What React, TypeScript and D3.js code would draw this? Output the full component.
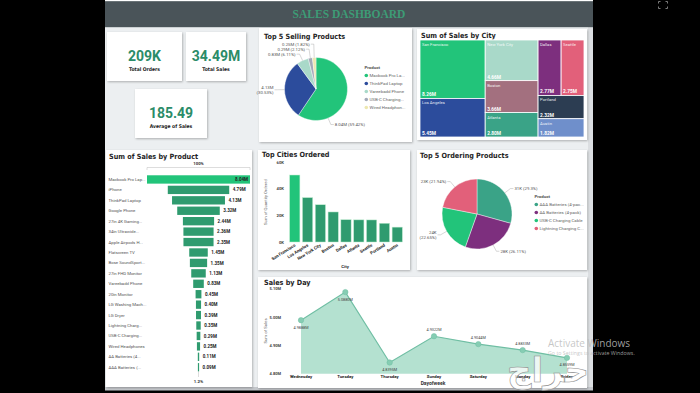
import React from 'react';
import * as d3 from 'd3';

const W = 700;
const H = 393;

// KPI cards
const kpiValues = ['209K', '34.49M', '185.49'];
const kpiNames = ['Total Orders', 'Total Sales', 'Average of Sales'];

// Top 5 Selling Products (sales, millions)
const sellingProducts = ['Macbook Pro Laptop', 'ThinkPad Laptop', 'Vareebadd Phone', 'USB-C Charging Cable', 'Wired Headphones'];
const sellingSales = [8.038, 4.13, 0.827, 0.287, 0.246];

// Sum of Sales by City (millions)
const cityNames = ['San Francisco', 'Los Angeles', 'New York City', 'Boston', 'Atlanta', 'Dallas', 'Seattle', 'Portland', 'Austin'];
const citySales = [8.26, 5.45, 4.66, 3.66, 2.8, 2.77, 2.75, 2.32, 1.82];
const cityGroups: any[] = [
  ['San Francisco', 'Los Angeles'],
  ['New York City', 'Boston', 'Atlanta'],
  [['Dallas', 'Seattle'], 'Portland', 'Austin'],
];

// Sum of Sales by Product (millions)
const productNames = [
  'Macbook Pro Laptop', 'iPhone', 'ThinkPad Laptop', 'Google Phone', '27in 4K Gaming Monitor',
  '34in Ultrawide Monitor', 'Apple Airpods Headphones', 'Flatscreen TV', 'Bose SoundSport Headphones',
  '27in FHD Monitor', 'Vareebadd Phone', '20in Monitor', 'LG Washing Machine', 'LG Dryer',
  'Lightning Charging Cable', 'USB-C Charging Cable', 'Wired Headphones', 'AA Batteries (4-pack)', 'AAA Batteries (4-pack)',
];
const productSales = [8.038, 4.794, 4.13, 3.319, 2.435, 2.356, 2.349, 1.446, 1.346, 1.132, 0.827, 0.454, 0.4, 0.388, 0.347, 0.287, 0.246, 0.106, 0.093];

// Top Cities Ordered (quantity)
const orderCities = ['San Francisco', 'Los Angeles', 'New York City', 'Boston', 'Dallas', 'Atlanta', 'Seattle', 'Portland', 'Austin'];
const orderQty = [50239, 33289, 27932, 22528, 16730, 16602, 16553, 14053, 11153];
const qtyTicks = [0, 20000, 40000, 60000];

// Top 5 Ordering Products (quantity)
const orderProducts = ['AAA Batteries (4-pack)', 'AA Batteries (4-pack)', 'USB-C Charging Cable', 'Lightning Charging Cable'];
const orderProductQty = [31017, 27635, 23975, 23217];

// Sales by Day (millions)
const days = ['Wednesday', 'Tuesday', 'Thursday', 'Sunday', 'Saturday', 'Monday', 'Friday'];
const daySales = [4.9888, 5.088, 4.8395, 4.9322, 4.9044, 4.8833, 4.8559];
const dayTicks = [4.8, 4.9, 5.0, 5.1];

const GREEN = '#22c47a';
const DARK_GREEN = '#2f9b6f';
const cityColors: Record<string, string> = {
  'San Francisco': GREEN,
  'Los Angeles': '#2c4c9c',
  'New York City': '#a9d9c9',
  Boston: '#a3707f',
  Atlanta: '#3aa387',
  Dallas: '#7d2f7e',
  Seattle: '#e2607a',
  Portland: '#2c3d52',
  Austin: '#6f8fcb',
};
const pie1Colors = [GREEN, '#2c4c9c', '#a9d9c9', '#a3a9b8', '#ece7b0'];
const pie2Colors = ['#3aa387', '#7d2f7e', GREEN, '#e2607a'];

const TITLE_FONT = "'Liberation Sans Narrow', 'DejaVu Sans Condensed', sans-serif";
const clip = (s: string, max: number) => (s.length > max ? s.slice(0, max - 1).trimEnd() + '...' : s);
const pct = (p: number) => `${(p * 100).toFixed(2).replace(/0$/, '')}%`;

function Card({ x, y, w, h }: { x: number; y: number; w: number; h: number }) {
  return <rect x={x} y={y} width={w} height={h} fill="#fff" filter="url(#shadow)" />;
}

function Title({ x, y, text }: { x: number; y: number; text: string }) {
  return (
    <text x={x} y={y} fontFamily={TITLE_FONT} fontWeight="bold" fontSize={7.2} fill="#1e1e1e">
      {text}
    </text>
  );
}

function PieChart({ cx, cy, r, values, colors, labels, minX, maxX, slide, gap = 6.5 }: {
  cx: number; cy: number; r: number; values: number[]; colors: string[]; labels: string[]; minX: number; maxX: number; slide?: boolean; gap?: number;
}) {
  const arcs = d3.pie<number>().sort(null).value(d => d)(values);
  const arcGen = d3.arc<d3.PieArcDatum<number>>().innerRadius(0).outerRadius(r);
  const fs = 4.3;
  const items = arcs.map((a, i) => {
    let m = (a.startAngle + a.endAngle) / 2;
    const w = labels[i].length * fs * 0.5;
    // on the right, slide a wide label down the slice until it clears the legend
    if (slide) {
      while (Math.sin(m) >= 0 && cx + (r + 7) * Math.sin(m) + 5 + w > maxX && m < Math.min(a.endAngle - 0.15, Math.PI * 0.95)) m += 0.04;
    }
    const s = Math.sin(m);
    const c = -Math.cos(m);
    return { i, right: s >= 0, x0: cx + r * s, y0: cy + r * c, x1: cx + (r + 7) * s, ty: cy + (r + 7) * c };
  });
  [true, false].forEach(side => {
    const g = items.filter(d => d.right === side).sort((a, b) => a.ty - b.ty);
    for (let k = g.length - 2; k >= 0; k--) if (g[k].ty < cy && g[k].ty > g[k + 1].ty - gap) g[k].ty = g[k + 1].ty - gap;
    for (let k = 1; k < g.length; k++) if (g[k].ty < g[k - 1].ty + gap) g[k].ty = g[k - 1].ty + gap;
  });
  return (
    <g>
      {arcs.map((a, i) => (
        <path key={i} d={arcGen(a) || ''} transform={`translate(${cx},${cy})`} fill={colors[i]} stroke="#fff" strokeWidth={0.4} />
      ))}
      {items.map(it => {
        const label = labels[it.i];
        const dir = it.right ? 1 : -1;
        const x2 = it.x1 + dir * 3;
        const tx = x2 + dir * 1;
        const w = label.length * fs * 0.5;
        const wrap = it.right ? tx + w > maxX : tx - w < minX;
        const lines = wrap ? label.split(' ') : [label];
        return (
          <g key={it.i}>
            <polyline points={`${it.x0},${it.y0} ${it.x1},${it.ty} ${x2},${it.ty}`} fill="none" stroke="#9a9a9a" strokeWidth={0.4} />
            <text x={tx} y={it.ty + 1.5 - (lines.length - 1) * 2.3} fontSize={fs} fill="#555" textAnchor={it.right ? 'start' : 'end'}>
              {lines.map((l, k) => (
                <tspan key={k} x={tx} dy={k === 0 ? 0 : 4.8}>{l}</tspan>
              ))}
            </text>
          </g>
        );
      })}
    </g>
  );
}

function Legend({ x, y, names, colors, max }: { x: number; y: number; names: string[]; colors: string[]; max: number }) {
  return (
    <g fontSize={4.4} fill="#666">
      <text x={x} y={y} fontWeight="bold" fill="#555">Product</text>
      {names.map((n, i) => (
        <g key={n} transform={`translate(0,${y + 8 + i * 8})`}>
          <circle cx={x + 1.8} cy={-1.5} r={1.8} fill={colors[i]} />
          <text x={x + 5} y={0}>{clip(n, max)}</text>
        </g>
      ))}
    </g>
  );
}

function buildCity(node: any): any {
  if (typeof node === 'string') return { name: node, value: citySales[cityNames.indexOf(node)] };
  return { children: node.map(buildCity) };
}

export default function App() {
  // treemap
  const tmX = 420, tmY = 40, tmW = 164, tmH = 97;
  const root = d3.hierarchy(buildCity(cityGroups)).sum((d: any) => d.value || 0);
  d3.treemap<any>().tile(d3.treemapSliceDice).size([tmW, tmH])(root);
  const tiles = root.leaves() as d3.HierarchyRectangularNode<any>[];

  // funnel
  const fCenter = 198.5;
  const fw = d3.scaleLinear().domain([0, d3.max(productSales) as number]).range([0, 103]);
  const fy = d3.scaleBand<string>().domain(productNames).range([173.2, 373.5]).padding(0.2);
  const lastBottom = (fy(productNames[productNames.length - 1]) as number) + fy.bandwidth();

  // bar chart
  const bx = d3.scaleBand<string>().domain(orderCities).range([289, 403]).paddingInner(0.2).paddingOuter(0.05);
  const by = d3.scaleLinear().domain([0, 60000]).range([242, 162]);

  // pies
  const sellTotal = d3.sum(sellingSales);
  const sellLabels = sellingSales.map(v => `${v.toFixed(2)}M (${pct(v / sellTotal)})`);
  const ordTotal = d3.sum(orderProductQty);
  const ordLabels = orderProductQty.map(v => `${Math.round(v / 1000)}K (${pct(v / ordTotal)})`);

  // sales by day
  const dx = d3.scalePoint<string>().domain(days).range([301, 567]);
  const dy = d3.scaleLinear().domain([4.8, 5.1]).range([373.7, 288.7]);
  const area = d3.area<number>().x((_, i) => dx(days[i]) as number).y0(dy(4.8)).y1(d => dy(d));
  const line = d3.line<number>().x((_, i) => dx(days[i]) as number).y(d => dy(d));

  const kpiCards = [
    { x: 107, y: 32, w: 75, h: 49 },
    { x: 186, y: 32, w: 60, h: 49 },
    { x: 135, y: 89, w: 72, h: 49 },
  ];

  return (
    <svg width={W} height={H} style={{ position: 'absolute', left: 0, top: 0, background: '#000' }} fontFamily="Roboto, 'DejaVu Sans', sans-serif">
      <defs>
        <filter id="shadow" x="-10%" y="-10%" width="130%" height="130%">
          <feDropShadow dx="0.8" dy="1" stdDeviation="1" floodColor="#000" floodOpacity="0.28" />
        </filter>
      </defs>
      <rect x={0} y={0} width={W} height={H} fill="#000" />
      <rect x={105} y={0} width={488} height={388} fill="#eceff1" />
      <rect x={588} y={27} width={5} height={361} fill="#dcdfe2" />
      <rect x={105} y={387} width={488} height={3.5} fill="#c4c7cb" />
      <rect x={105} y={0} width={488} height={1.2} fill="#fff" />
      <rect x={105} y={1.2} width={488} height={26} fill="#4a5459" />
      <text x={349} y={17.5} textAnchor="middle" fontFamily="'Liberation Serif', 'DejaVu Serif', serif" fontWeight="bold" fontSize={11.5} fill="#3d9c76">
        SALES DASHBOARD
      </text>

      {/* fullscreen icon */}
      <g stroke="#888" strokeWidth={0.9} fill="none">
        <path d="M658.5,3.5 v-2 h2 M665.5,1.5 h2 v2 M667.5,6.5 v2 h-2 M660.5,8.5 h-2 v-2" />
      </g>

      {/* KPI cards */}
      {kpiCards.map((c, i) => (
        <g key={i}>
          <Card {...c} />
          <text x={c.x + c.w / 2} y={c.y + 28.5} textAnchor="middle" fontWeight="bold" fontSize={14} fill="#2b8c68">{kpiValues[i]}</text>
          <text x={c.x + c.w / 2} y={c.y + 38.5} textAnchor="middle" fontFamily={TITLE_FONT} fontWeight="bold" fontSize={5} fill="#222">{kpiNames[i]}</text>
        </g>
      ))}

      {/* Top 5 Selling Products */}
      <Card x={259} y={28} w={153} h={114} />
      <Title x={264} y={39} text="Top 5 Selling Products" />
      <PieChart cx={316} cy={89} r={31.5} values={sellingSales} colors={pie1Colors} labels={sellLabels} minX={262} maxX={366} slide gap={5} />
      <Legend x={364.5} y={69} names={sellingProducts} colors={pie1Colors} max={15} />

      {/* Sum of Sales by City */}
      <Card x={417} y={29} w={170} h={111} />
      <Title x={421} y={38} text="Sum of Sales by City" />
      {tiles.map(t => (
        <g key={t.data.name}>
          <rect x={tmX + t.x0} y={tmY + t.y0} width={t.x1 - t.x0} height={t.y1 - t.y0} fill={cityColors[t.data.name]} stroke="#fff" strokeWidth={0.8} />
          <text x={tmX + t.x0 + 2} y={tmY + t.y0 + 6} fontSize={4.2} fill="#fff" fillOpacity={0.9}>{t.data.name}</text>
          <text x={tmX + t.x0 + 2} y={tmY + t.y1 - 2} fontSize={4.8} fontWeight="bold" fill="#fff">{`${(t.value as number).toFixed(2)}M`}</text>
        </g>
      ))}

      {/* Sum of Sales by Product */}
      <Card x={106} y={150} w={146} h={237} />
      <Title x={109} y={159} text="Sum of Sales by Product" />
      <text x={fCenter} y={164.5} textAnchor="middle" fontSize={4.3} fontWeight="bold" fill="#333">100%</text>
      <path d={`M${fCenter - fw(productSales[0]) / 2},170 v-2.5 h${fw(productSales[0])} v2.5`} fill="none" stroke="#bbb" strokeWidth={0.5} />
      {productNames.map((p, i) => {
        const w = fw(productSales[i]);
        const y = fy(p) as number;
        const label = `${productSales[i].toFixed(2)}M`;
        const inside = fCenter + w / 2 + 18 > 252;
        return (
          <g key={p}>
            <text x={108.5} y={y + fy.bandwidth() / 2 + 1.5} fontSize={4.3} fill="#555">{clip(p, 16)}</text>
            <rect x={fCenter - w / 2} y={y} width={w} height={fy.bandwidth()} fill={i === 0 ? GREEN : DARK_GREEN} />
            <text
              x={inside ? fCenter + w / 2 - 2 : fCenter + w / 2 + 3.5}
              y={y + fy.bandwidth() / 2 + 1.6}
              textAnchor={inside ? 'end' : 'start'}
              fontSize={4.5}
              fontWeight="bold"
              fill="#222"
            >
              {label}
            </text>
          </g>
        );
      })}
      <line x1={fCenter} x2={fCenter} y1={lastBottom} y2={377} stroke="#bbb" strokeWidth={0.5} />
      <text x={fCenter} y={383} textAnchor="middle" fontSize={4.3} fontWeight="bold" fill="#333">
        {`${((productSales[productSales.length - 1] / productSales[0]) * 100).toFixed(1)}%`}
      </text>

      {/* Top Cities Ordered */}
      <Card x={258} y={150} w={152} h={120} />
      <Title x={262} y={157} text="Top Cities Ordered" />
      {qtyTicks.map(t => (
        <text key={t} x={284} y={by(t) + 1.5} textAnchor="end" fontSize={4.2} fontWeight="bold" fill="#444">{`${t / 1000}K`}</text>
      ))}
      <text transform="translate(267,202) rotate(-90)" textAnchor="middle" fontSize={4.2} fill="#666">Sum of Quantity Ordered</text>
      {orderCities.map((c, i) => (
        <g key={c}>
          <rect x={bx(c)} y={by(orderQty[i])} width={bx.bandwidth()} height={by(0) - by(orderQty[i])} fill={i === 0 ? GREEN : DARK_GREEN} stroke="#bfeccf" strokeWidth={0.5} />
          <text transform={`translate(${(bx(c) as number) + bx.bandwidth() / 2 + 1},${246}) rotate(-32)`} textAnchor="end" fontSize={4.3} fontWeight="bold" fill="#222">{c}</text>
        </g>
      ))}
      <text x={345} y={268} textAnchor="middle" fontSize={4.4} fontWeight="bold" fill="#333">City</text>

      {/* Top 5 Ordering Products */}
      <Card x={417} y={150} w={170} h={120} />
      <Title x={420} y={158} text="Top 5 Ordering Products" />
      <PieChart cx={477} cy={214} r={35} values={orderProductQty} colors={pie2Colors} labels={ordLabels} minX={420} maxX={548} />
      <Legend x={534.5} y={198} names={orderProducts} colors={pie2Colors} max={21} />

      {/* Sales by Day */}
      <Card x={258} y={277} w={329} h={111} />
      <Title x={264} y={285} text="Sales by Day" />
      {dayTicks.map(t => (
        <text key={t} x={281} y={dy(t) + 1.5} textAnchor="end" fontSize={4} fontWeight="bold" fill="#444">{`${t.toFixed(2)}M`}</text>
      ))}
      <text transform="translate(267,331) rotate(-90)" textAnchor="middle" fontSize={4.3} fill="#666">Sum of Sales</text>
      <path d={area(daySales) || ''} fill="#a7dcc8" fillOpacity={0.85} />
      <path d={line(daySales) || ''} fill="none" stroke="#6fbea3" strokeWidth={1.1} />
      {daySales.map((v, i) => {
        const below = i < 3 || i === daySales.length - 1;
        return (
          <g key={days[i]}>
            <circle cx={dx(days[i])} cy={dy(v)} r={2.7} fill="#86cdb3" stroke="#6fbea3" strokeWidth={0.5} />
            <text x={dx(days[i])} y={below ? dy(v) + 8.5 : dy(v) - 5.5} textAnchor="middle" fontSize={3.8} fill="#444">{`${v.toFixed(4)}M`}</text>
            <text x={dx(days[i])} y={378} textAnchor="middle" fontSize={4.3} fontWeight="bold" fill="#222">{days[i]}</text>
          </g>
        );
      })}
      <text x={433} y={385} textAnchor="middle" fontSize={5} fontWeight="bold" fill="#333">Dayofweek</text>

      {/* watermarks */}
      <text x={548} y={347} fontSize={10} fill="#bdbdbd" fillOpacity={0.85} fontFamily="'Open Sans', sans-serif">Activate Windows</text>
      <text x={548} y={354.5} fontSize={5.3} fill="#bdbdbd" fillOpacity={0.85} fontFamily="'Open Sans', sans-serif">Go to Settings to activate Windows.</text>
      <text x={548} y={382} textAnchor="middle" fontSize={34} fontWeight="bold" fill="#fff" fillOpacity={0.75} stroke="#8f8f8f" strokeWidth={0.6} fontFamily="'DejaVu Sans', sans-serif">حراج</text>
    </svg>
  );
}
